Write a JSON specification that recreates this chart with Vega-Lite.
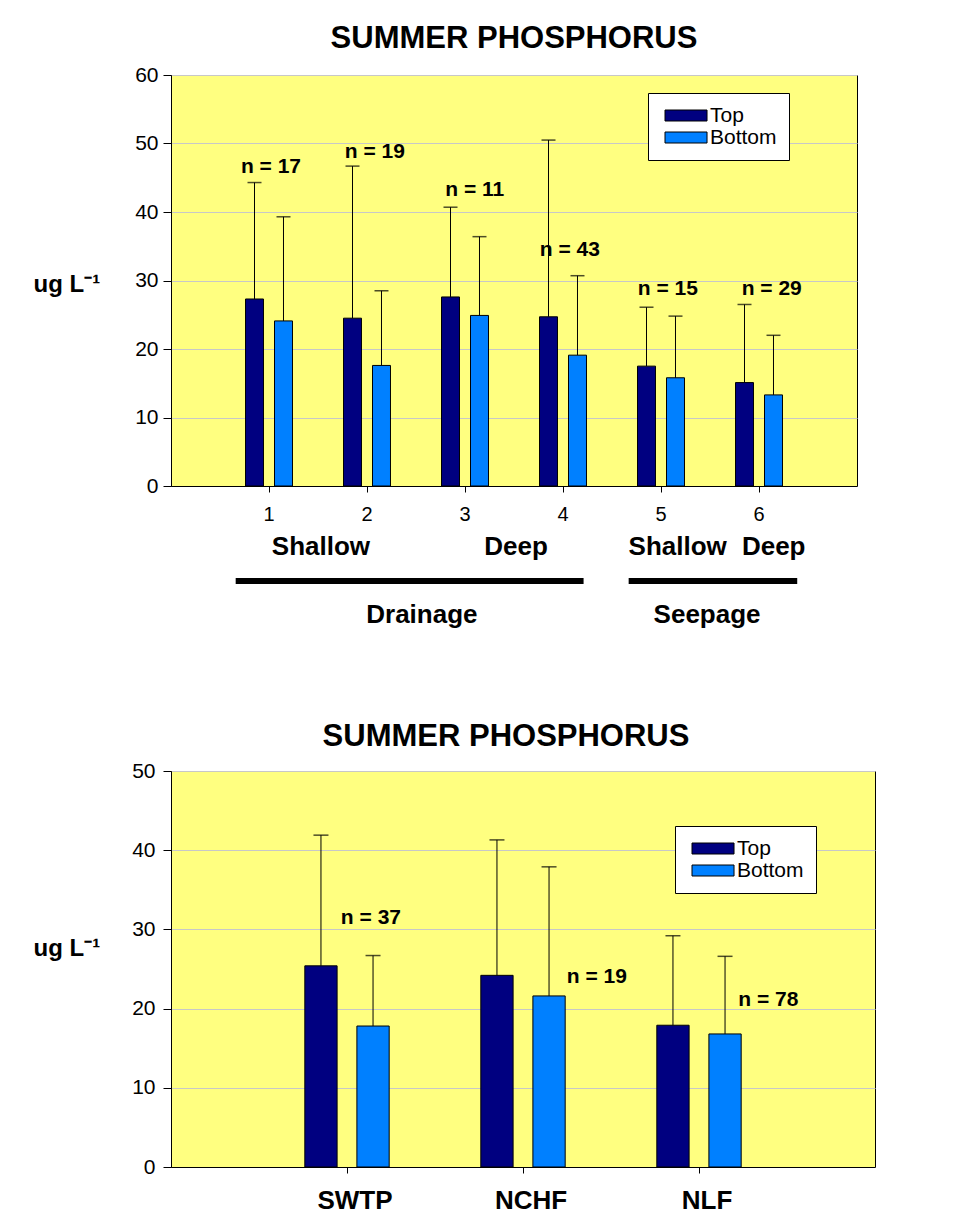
{
  "$schema": "https://vega.github.io/schema/vega-lite/v6.json",
  "background": "white",
  "padding": {"left": 32, "top": 22, "right": 10, "bottom": 4},
  "config": {
    "font": "Liberation Sans",
    "view": {"fill": "#FFFF80", "stroke": "black", "strokeWidth": 1},
    "axis": {
      "domainColor": "black",
      "tickColor": "black",
      "labelColor": "black",
      "titleColor": "black",
      "labelFont": "Liberation Sans",
      "titleFont": "Liberation Sans"
    },
    "legend": {
      "orient": "none",
      "title": null,
      "fillColor": "white",
      "strokeColor": "black",
      "padding": 12,
      "symbolType": "M-1,-1H6.64V1H-1Z",
      "symbolSize": 121,
      "symbolStrokeColor": "black",
      "symbolStrokeWidth": 1,
      "labelFont": "Liberation Sans",
      "labelFontSize": 21,
      "labelColor": "black",
      "labelOffset": 29,
      "rowPadding": 0
    }
  },
  "datasets": {
    "summer_sites": [
      {"site": "1", "layer": "Top", "mean": 27.3, "upper": 44.3},
      {"site": "1", "layer": "Bottom", "mean": 24.1, "upper": 39.3},
      {"site": "2", "layer": "Top", "mean": 24.5, "upper": 46.7},
      {"site": "2", "layer": "Bottom", "mean": 17.6, "upper": 28.5},
      {"site": "3", "layer": "Top", "mean": 27.6, "upper": 40.7},
      {"site": "3", "layer": "Bottom", "mean": 24.9, "upper": 36.4},
      {"site": "4", "layer": "Top", "mean": 24.7, "upper": 50.5},
      {"site": "4", "layer": "Bottom", "mean": 19.1, "upper": 30.7},
      {"site": "5", "layer": "Top", "mean": 17.5, "upper": 26.1},
      {"site": "5", "layer": "Bottom", "mean": 15.8, "upper": 24.8},
      {"site": "6", "layer": "Top", "mean": 15.1, "upper": 26.5},
      {"site": "6", "layer": "Bottom", "mean": 13.3, "upper": 22.0}
    ],
    "summer_site_n": [
      {"label": "n = 17", "at_site": 1.02, "at_value": 46.5},
      {"label": "n = 19", "at_site": 2.08, "at_value": 48.8},
      {"label": "n = 11", "at_site": 3.10, "at_value": 43.2},
      {"label": "n = 43", "at_site": 4.07, "at_value": 34.4},
      {"label": "n = 15", "at_site": 5.07, "at_value": 28.8},
      {"label": "n = 29", "at_site": 6.13, "at_value": 28.7}
    ],
    "site_group_labels": [
      {"label": "Shallow", "tier": "depth", "at_site": 1.53},
      {"label": "Deep", "tier": "depth", "at_site": 3.52},
      {"label": "Shallow", "tier": "depth", "at_site": 5.17},
      {"label": "Deep", "tier": "depth", "at_site": 6.15},
      {"label": "Drainage", "tier": "system", "at_site": 2.56},
      {"label": "Seepage", "tier": "system", "at_site": 5.47}
    ],
    "site_group_spans": [
      {"system": "Drainage", "tier": "line", "from": 0.66, "to": 4.21},
      {"system": "Seepage", "tier": "line", "from": 4.67, "to": 6.39}
    ],
    "summer_lakes": [
      {"lake": "SWTP", "layer": "Top", "mean": 25.4, "upper": 41.9},
      {"lake": "SWTP", "layer": "Bottom", "mean": 17.8, "upper": 26.7},
      {"lake": "NCHF", "layer": "Top", "mean": 24.2, "upper": 41.3},
      {"lake": "NCHF", "layer": "Bottom", "mean": 21.6, "upper": 37.9},
      {"lake": "NLF", "layer": "Top", "mean": 17.9, "upper": 29.2},
      {"lake": "NLF", "layer": "Bottom", "mean": 16.8, "upper": 26.6}
    ],
    "summer_lake_n": [
      {"label": "n = 37", "at_lake": 1.136, "at_value": 31.4},
      {"label": "n = 19", "at_lake": 2.42, "at_value": 24.0},
      {"label": "n = 78", "at_lake": 3.394, "at_value": 21.1}
    ]
  },
  "spacing": 88,
  "resolve": {"scale": {"x": "independent", "xOffset": "independent", "color": "independent"}},
  "vconcat": [
    {
      "spacing": 5,
      "resolve": {"scale": {"x": "independent"}},
      "vconcat": [
        {
          "title": {
            "text": "SUMMER PHOSPHORUS",
            "fontSize": 31,
            "fontWeight": "bold",
            "color": "black",
            "anchor": "middle",
            "frame": "group",
            "baseline": "alphabetic",
            "offset": -15
          },
          "width": 686,
          "height": 411,
          "resolve": {"scale": {"x": "independent"}},
          "layer": [
            {
              "data": {"name": "summer_sites"},
              "layer": [
                {
                  "mark": {"type": "bar", "stroke": "black", "strokeWidth": 1},
                  "encoding": {
                    "x": {
                      "field": "site",
                      "type": "ordinal",
                      "scale": {"paddingInner": 0, "paddingOuter": 0.5},
                      "axis": {
                        "title": null,
                        "labelAngle": 0,
                        "labelFontSize": 20,
                        "tickSize": 6,
                        "labelPadding": 12,
                        "grid": false
                      }
                    },
                    "xOffset": {
                      "field": "layer",
                      "type": "nominal",
                      "scale": {"domain": ["Top", "Bottom"], "paddingInner": 0.38, "paddingOuter": 0.88}
                    },
                    "y": {
                      "field": "mean",
                      "type": "quantitative",
                      "scale": {"domain": [0, 60]},
                      "axis": {
                        "title": "ug L⁻¹",
                        "titleAngle": 0,
                        "titleFontSize": 24,
                        "titleFontWeight": "bold",
                        "titleAlign": "left",
                        "titleBaseline": "alphabetic",
                        "titleX": -138,
                        "titleY": 216,
                        "values": [0, 10, 20, 30, 40, 50, 60],
                        "labelFontSize": 21,
                        "tickSize": 8,
                        "labelPadding": 5,
                        "grid": true,
                        "gridColor": "#C8C8C8"
                      }
                    },
                    "color": {
                      "field": "layer",
                      "type": "nominal",
                      "scale": {"domain": ["Top", "Bottom"], "range": ["#000080", "#0080FF"]},
                      "legend": {"legendX": 477, "legendY": 18}
                    }
                  }
                },
                {
                  "mark": {"type": "rule", "color": "black", "strokeWidth": 1},
                  "encoding": {
                    "x": {"field": "site", "type": "ordinal"},
                    "xOffset": {"field": "layer", "type": "nominal"},
                    "y": {"field": "mean", "type": "quantitative"},
                    "y2": {"field": "upper"}
                  }
                },
                {
                  "mark": {"type": "tick", "orient": "horizontal", "color": "black", "thickness": 1.5, "size": 14},
                  "encoding": {
                    "x": {"field": "site", "type": "ordinal"},
                    "xOffset": {"field": "layer", "type": "nominal"},
                    "y": {"field": "upper", "type": "quantitative"}
                  }
                }
              ]
            },
            {
              "data": {"name": "summer_site_n"},
              "mark": {"type": "text", "fontSize": 21, "fontWeight": "bold", "align": "center", "baseline": "middle", "color": "black"},
              "encoding": {
                "x": {"field": "at_site", "type": "quantitative", "scale": {"domain": [0, 7]}, "axis": null},
                "y": {"field": "at_value", "type": "quantitative"},
                "text": {"field": "label"}
              }
            }
          ]
        },
        {
          "width": 686,
          "height": 102,
          "view": {"fill": null, "stroke": null},
          "layer": [
            {
              "data": {"name": "site_group_labels"},
              "mark": {"type": "text", "fontSize": 26, "fontWeight": "bold", "align": "center", "baseline": "middle", "color": "black"},
              "encoding": {
                "x": {"field": "at_site", "type": "quantitative", "scale": {"domain": [0, 7]}, "axis": null},
                "y": {"field": "tier", "type": "ordinal", "scale": {"domain": ["depth", "line", "system"]}, "axis": null},
                "text": {"field": "label"}
              }
            },
            {
              "data": {"name": "site_group_spans"},
              "mark": {"type": "rule", "color": "black", "strokeWidth": 6, "strokeCap": "butt"},
              "encoding": {
                "x": {"field": "from", "type": "quantitative"},
                "x2": {"field": "to"},
                "y": {"field": "tier", "type": "ordinal"}
              }
            }
          ]
        }
      ]
    },
    {
      "title": {
        "text": "SUMMER PHOSPHORUS",
        "fontSize": 31,
        "fontWeight": "bold",
        "color": "black",
        "anchor": "middle",
        "frame": "group",
        "baseline": "alphabetic",
        "offset": -17,
        "dx": -17
      },
      "width": 704,
      "height": 396,
      "resolve": {"scale": {"x": "independent"}},
      "layer": [
        {
          "data": {"name": "summer_lakes"},
          "layer": [
            {
              "mark": {"type": "bar", "stroke": "black", "strokeWidth": 1},
              "encoding": {
                "x": {
                  "field": "lake",
                  "type": "ordinal",
                  "sort": ["SWTP", "NCHF", "NLF"],
                  "scale": {"paddingInner": 0, "paddingOuter": 0.5},
                  "axis": {
                    "title": null,
                    "labelAngle": 0,
                    "labelFontSize": 26,
                    "labelFontWeight": "bold",
                    "labelOffset": 8,
                    "tickSize": 6,
                    "labelPadding": 14,
                    "grid": false
                  }
                },
                "xOffset": {
                  "field": "layer",
                  "type": "nominal",
                  "scale": {"domain": ["Top", "Bottom"], "paddingInner": 0.38, "paddingOuter": 0.88}
                },
                "y": {
                  "field": "mean",
                  "type": "quantitative",
                  "scale": {"domain": [0, 50]},
                  "axis": {
                    "title": "ug L⁻¹",
                    "titleAngle": 0,
                    "titleFontSize": 24,
                    "titleFontWeight": "bold",
                    "titleAlign": "left",
                    "titleBaseline": "alphabetic",
                    "titleX": -138,
                    "titleY": 184,
                    "values": [0, 10, 20, 30, 40, 50],
                    "labelFontSize": 21,
                    "tickSize": 8,
                    "labelPadding": 8,
                    "grid": true,
                    "gridColor": "#C8C8C8"
                  }
                },
                "color": {
                  "field": "layer",
                  "type": "nominal",
                  "scale": {"domain": ["Top", "Bottom"], "range": ["#000080", "#0080FF"]},
                  "legend": {"legendX": 504, "legendY": 55}
                }
              }
            },
            {
              "mark": {"type": "rule", "color": "black", "strokeWidth": 1},
              "encoding": {
                "x": {"field": "lake", "type": "ordinal", "sort": ["SWTP", "NCHF", "NLF"]},
                "xOffset": {"field": "layer", "type": "nominal"},
                "y": {"field": "mean", "type": "quantitative"},
                "y2": {"field": "upper"}
              }
            },
            {
              "mark": {"type": "tick", "orient": "horizontal", "color": "black", "thickness": 1.5, "size": 15},
              "encoding": {
                "x": {"field": "lake", "type": "ordinal", "sort": ["SWTP", "NCHF", "NLF"]},
                "xOffset": {"field": "layer", "type": "nominal"},
                "y": {"field": "upper", "type": "quantitative"}
              }
            }
          ]
        },
        {
          "data": {"name": "summer_lake_n"},
          "mark": {"type": "text", "fontSize": 21, "fontWeight": "bold", "align": "center", "baseline": "middle", "color": "black"},
          "encoding": {
            "x": {"field": "at_lake", "type": "quantitative", "scale": {"domain": [0, 4]}, "axis": null},
            "y": {"field": "at_value", "type": "quantitative"},
            "text": {"field": "label"}
          }
        }
      ]
    }
  ]
}
